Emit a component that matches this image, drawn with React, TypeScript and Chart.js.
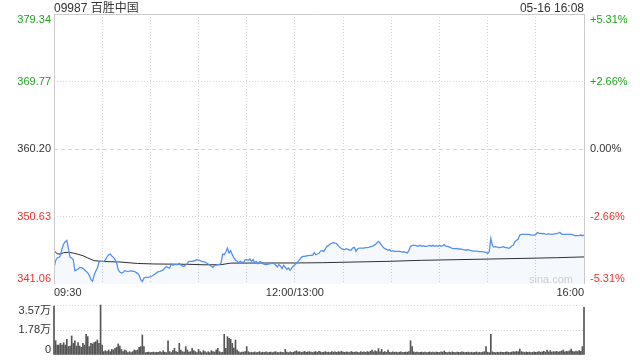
import React, { useEffect, useRef } from "react";
import { Chart, registerables } from "chart.js";
Chart.register(...registerables);

const titleText = "09987 百胜中国";
const stampText = "05-16 16:08";
const prevClose = 360.2;
const priceTicks = [341.06, 350.63, 360.2, 369.77, 379.34];
const volTicks = [0, 1.78, 3.57];
const volTickLabels = ["0", "1.78万", "3.57万"];
const timeLabels = ["09:30", "12:00/13:00", "16:00"];
const timeLabelMinutes = [0, 150, 330];
const totalMinutes = 330;

// price per minute (index = minutes of trading since 09:30, lunch break skipped)
const prices = [
  343.33, 344.37, 344.75, 344.84, 345.08, 346.07, 346.73, 347.06, 347.25, 346.07,
  344.84, 344.75, 344.51, 342.95, 343.05, 343.19, 343.42, 343.38, 343.28, 343.09,
  342.86, 342.62, 342.29, 341.67, 341.45, 342.29, 342.86, 343.33, 344.18, 344.27,
  344.27, 344.27, 344.51, 344.89, 345.22, 345.31, 345.03, 344.84, 344.51, 344.04,
  343.09, 342.76, 342.62, 342.71, 342.95, 342.9, 342.86, 342.9, 342.95, 342.86,
  342.86, 342.71, 342.57, 342.29, 341.67, 341.4, 341.91, 342.01, 342.01, 342.05,
  342.1, 342.19, 342.34, 342.48, 342.67, 342.81, 342.86, 342.95, 343.05, 343.33,
  343.57, 343.38, 343.33, 343.9, 343.71, 343.85, 343.8, 343.8, 343.99, 343.75,
  343.61, 343.57, 343.75, 343.99, 344.27, 344.27, 344.27, 344.32, 344.42, 344.51,
  344.46, 344.37, 344.27, 344.23, 344.18, 344.04, 343.9, 343.71, 343.57, 343.42,
  343.71, 343.75, 343.8, 343.8, 344.04, 345.31, 345.22, 345.6, 346.16, 345.46,
  345.79, 345.22, 344.75, 344.46, 344.27, 344.08, 344.27, 344.18, 344.08, 344.51,
  344.51, 344.42, 344.6, 344.27, 344.51, 344.08, 344.27, 343.94, 344.23, 344.18,
  343.94, 343.85, 343.8, 343.85, 343.9, 343.94, 344.04, 343.94, 343.75, 343.47,
  343.8, 343.61, 343.23, 343.71, 343.42, 343.14, 343.33, 343.0, 343.33, 343.61,
  343.8, 344.04, 344.27, 344.51, 344.84, 344.98, 344.98, 345.03, 345.08, 345.12,
  345.12, 345.12, 345.5, 345.22, 345.31, 345.41, 345.74, 345.79, 345.69, 346.07,
  346.4, 346.54, 346.73, 346.87, 346.92, 346.87, 346.78, 346.5, 346.26, 346.07,
  345.98, 345.93, 346.07, 345.98, 345.88, 345.88, 346.16, 346.26, 345.69, 346.02,
  346.16, 346.16, 346.16, 346.16, 346.21, 346.21, 346.26, 346.35, 346.4, 346.5,
  346.64, 346.87, 347.11, 346.87, 346.54, 346.26, 346.07, 345.98, 345.83, 345.93,
  345.69, 345.79, 345.69, 345.69, 345.69, 345.69, 345.64, 345.6, 345.6, 345.55,
  345.46, 345.83, 346.4, 346.54, 346.54, 346.54, 346.45, 346.45, 346.54, 346.4,
  346.5, 346.4, 346.4, 346.45, 346.54, 346.4, 346.54, 346.4, 346.5, 346.4,
  346.54, 346.4, 346.5, 346.64, 346.4, 346.4, 346.31, 346.21, 346.12, 346.07,
  346.07, 346.11, 346.02, 346.02, 345.97, 345.92, 345.88, 345.88, 345.92, 345.83,
  345.78, 345.73, 345.73, 345.73, 345.69, 345.64, 345.64, 345.64, 345.59, 345.54,
  345.4, 345.64, 347.53, 346.49, 346.3, 346.35, 346.3, 346.21, 346.25, 346.3,
  346.35, 346.21, 346.21, 346.11, 346.21, 346.44, 346.58, 347.06, 347.25, 347.44,
  348.0, 348.1, 348.1, 348.1, 348.1, 348.1, 348.1, 348.0, 348.0, 348.0,
  348.1, 348.38, 348.24, 348.24, 348.19, 348.24, 348.14, 348.1, 348.19, 348.14,
  348.1, 348.14, 348.19, 348.19, 348.29, 348.38, 348.14, 348.1, 348.1, 348.1,
  348.1, 348.1, 348.1, 348.05, 347.91, 347.91, 347.91, 347.91, 348.0, 347.91,
  348.0,
];

const avgMinutes = [0, 2, 4, 6, 9, 12, 15, 18, 21, 25, 31, 41, 52, 62, 84, 94, 104, 110, 135, 150, 167, 188, 208, 229, 251, 271, 292, 313, 330];
const avgPrices = [345.78, 345.35, 345.3, 345.5, 345.55, 345.45, 345.27, 345.08, 344.75, 344.37, 344.25, 344.18, 343.97, 343.9, 343.85, 343.78, 343.8, 344.02, 344.04, 344.04, 344.08, 344.18, 344.27, 344.42, 344.51, 344.6, 344.69, 344.79, 344.9];

// volume per minute, in 万
const volumes = [
  3.5, 1.02, 0.71, 0.71, 0.83, 0.71, 0.88, 0.71, 1.12, 0.6,
  0.64, 1.36, 0.83, 1.02, 0.64, 0.88, 0.64, 0.55, 0.83, 0.71,
  1.48, 1.31, 0.6, 0.83, 0.79, 0.88, 0.95, 1.07, 0.83, 3.57,
  0.71, 0.24, 0.31, 0.24, 0.36, 0.24, 0.4, 0.36, 0.48, 0.55,
  0.79, 0.64, 0.4, 0.24, 0.36, 0.31, 0.17, 0.24, 0.17, 0.24,
  0.36, 0.31, 0.36, 0.55, 0.6, 1.43, 0.6, 0.17, 0.19, 0.21,
  0.17, 0.19, 0.21, 0.17, 0.2, 0.19, 0.24, 0.18, 0.31, 0.2,
  0.17, 1.02, 0.24, 0.17, 0.31, 0.48, 0.24, 0.2, 0.83, 0.36,
  0.24, 0.2, 0.6, 0.36, 0.2, 0.24, 0.48, 0.31, 0.24, 0.17,
  0.4, 0.24, 0.17, 0.31, 0.24, 0.17, 0.24, 0.17, 0.31, 0.24,
  0.21, 0.36, 0.48, 0.24, 0.17, 0.2, 1.48, 0.48, 1.31, 1.19,
  1.12, 0.83, 0.5, 1.07, 0.36, 0.24, 0.17, 0.2, 0.21, 0.24,
  0.6, 0.24, 0.17, 0.2, 0.18, 0.22, 0.17, 0.19, 0.24, 0.17,
  0.2, 0.18, 0.22, 0.17, 0.19, 0.21, 0.17, 0.2, 0.24, 0.18,
  0.17, 0.21, 0.19, 0.17, 0.4, 0.2, 0.17, 0.22, 0.18, 0.2,
  0.24, 0.3, 0.2, 0.24, 0.18, 0.21, 0.26, 0.19, 0.22, 0.24,
  0.2, 0.18, 0.22, 0.24, 0.2, 0.26, 0.22, 0.18, 0.2, 0.24,
  0.19, 0.21, 0.18, 0.24, 0.2, 0.22, 0.19, 0.24, 0.2, 0.26,
  0.21, 0.19, 0.22, 0.2, 0.18, 0.24, 0.21, 0.19, 0.22, 0.2,
  0.18, 0.24, 0.2, 0.22, 0.19, 0.24, 0.21, 0.26, 0.36, 0.22,
  0.3, 0.24, 0.45, 0.22, 0.4, 0.2, 0.24, 0.19, 0.36, 0.2,
  0.18, 0.22, 0.19, 0.21, 0.17, 0.2, 0.22, 0.18, 0.19, 0.21,
  0.2, 0.24, 1.02, 0.6, 0.22, 0.18, 0.2, 0.17, 0.19, 0.21,
  0.18, 0.2, 0.17, 0.19, 0.22, 0.18, 0.2, 0.17, 0.21, 0.19,
  0.18, 0.22, 0.2, 0.29, 0.19, 0.17, 0.2, 0.18, 0.22, 0.19,
  0.17, 0.21, 0.19, 0.18, 0.22, 0.2, 0.17, 0.19, 0.21, 0.18,
  0.2, 0.17, 0.19, 0.22, 0.18, 0.2, 0.17, 0.21, 0.24, 0.6,
  0.2, 0.17, 1.48, 0.22, 0.19, 0.17, 0.2, 0.18, 0.21, 0.19,
  0.18, 0.2, 0.22, 0.19, 0.17, 0.21, 0.24, 0.2, 0.26, 0.22,
  0.43, 0.24, 0.2, 0.18, 0.22, 0.19, 0.21, 0.17, 0.2, 0.22,
  0.19, 0.21, 0.24, 0.2, 0.22, 0.26, 0.2, 0.36, 0.22, 0.31,
  0.2, 0.24, 0.22, 0.26, 0.21, 0.24, 0.28, 0.36, 0.22, 0.26,
  0.24, 0.3, 0.43, 0.26, 0.22, 0.28, 0.24, 0.32, 0.26, 0.6,
  3.4,
];

const FONT = '"Liberation Sans", Arial, "Noto Sans CJK SC", sans-serif';
const GREEN = "#1fa31f";
const RED = "#f2302f";
const TEXT = "#333333";
const GRID = "#d2d2d2";
const FRAME = "#cccccc";

const priceOverlay = {
  id: "priceOverlay",
  afterDraw(chart: any) {
    const { ctx, chartArea: a, scales } = chart;
    const x = scales.x;
    const y = scales.y;
    ctx.save();
    // frame
    ctx.strokeStyle = FRAME;
    ctx.lineWidth = 1;
    ctx.setLineDash([]);
    ctx.beginPath();
    ctx.moveTo(Math.round(a.left) + 0.5, a.bottom);
    ctx.lineTo(Math.round(a.left) + 0.5, Math.round(a.top) + 0.5);
    ctx.lineTo(Math.round(a.right) + 0.5, Math.round(a.top) + 0.5);
    ctx.lineTo(Math.round(a.right) + 0.5, a.bottom);
    ctx.stroke();

    // axis labels
    ctx.font = "11px " + FONT;
    priceTicks.forEach((v, i) => {
      const py = y.getPixelForValue(v);
      const base = i === priceTicks.length - 1 ? "top" : i === 0 ? "bottom" : "middle";
      const color = v > prevClose + 1e-9 ? GREEN : v < prevClose - 1e-9 ? RED : TEXT;
      ctx.fillStyle = color;
      ctx.textBaseline = base;
      ctx.textAlign = "right";
      ctx.fillText(v.toFixed(2), a.left - 3, py);
      const pct = ((v - prevClose) / prevClose) * 100;
      const pctText = (pct > 0.0001 ? "+" : "") + (Math.abs(pct) < 0.0001 ? "0.00" : pct.toFixed(2)) + "%";
      ctx.textAlign = "left";
      ctx.fillText(pctText, a.right + 6, py);
    });

    // time labels
    ctx.fillStyle = TEXT;
    ctx.textBaseline = "alphabetic";
    timeLabels.forEach((t, i) => {
      const px = x.getPixelForValue(timeLabelMinutes[i]);
      ctx.textAlign = i === 0 ? "left" : i === timeLabels.length - 1 ? "right" : "center";
      ctx.fillText(t, px, a.bottom + 12);
    });

    // title & stamp
    ctx.font = "12px " + FONT;
    ctx.fillStyle = TEXT;
    ctx.textAlign = "left";
    ctx.fillText(titleText, a.left, 12);
    ctx.textAlign = "right";
    ctx.fillText(stampText, a.right, 12);

    // watermark
    ctx.font = "11px " + FONT;
    ctx.fillStyle = "#cfcfcf";
    ctx.textAlign = "right";
    ctx.fillText("sina.com", a.right - 11, a.bottom - 1);
    ctx.restore();
  },
};

const volOverlay = {
  id: "volOverlay",
  afterDraw(chart: any) {
    const { ctx, chartArea: a, scales } = chart;
    const y = scales.y;
    ctx.save();
    ctx.font = "11px " + FONT;
    ctx.fillStyle = TEXT;
    ctx.textAlign = "right";
    volTicks.forEach((v, i) => {
      const py = y.getPixelForValue(v);
      ctx.textBaseline = i === volTicks.length - 1 ? "top" : i === 0 ? "bottom" : "middle";
      ctx.fillText(volTickLabels[i], a.left - 3, py);
    });
    ctx.restore();
  },
};

export default function App() {
  const priceRef = useRef<HTMLCanvasElement>(null);
  const volRef = useRef<HTMLCanvasElement>(null);

  useEffect(() => {
    const pc = new Chart(priceRef.current as HTMLCanvasElement, {
      type: "line",
      data: {
        datasets: [
          {
            data: prices.map((p, i) => ({ x: i, y: p })),
            borderColor: "#5591f0",
            borderWidth: 1.3,
            pointRadius: 0,
            fill: "start",
            backgroundColor: "rgba(85,145,240,0.06)",
            tension: 0,
          },
          {
            data: avgMinutes.map((m, i) => ({ x: m, y: avgPrices[i] })),
            borderColor: "#2b2b2b",
            borderWidth: 1,
            pointRadius: 0,
            fill: false,
            tension: 0,
          },
        ],
      },
      options: {
        animation: false,
        responsive: false,
        maintainAspectRatio: false,
        layout: { padding: { left: 54, right: 56, top: 14, bottom: 16 } },
        plugins: { legend: { display: false }, tooltip: { enabled: false } },
        scales: {
          x: {
            type: "linear",
            min: 0,
            max: totalMinutes,
            offset: false,
            ticks: { display: false, stepSize: 30 },
            grid: { color: GRID, drawTicks: false, lineWidth: 1 },
            border: { display: false, dash: [1, 2] },
          },
          y: {
            type: "linear",
            min: priceTicks[0],
            max: priceTicks[priceTicks.length - 1],
            afterBuildTicks: (s: any) => {
              s.ticks = priceTicks.map((v) => ({ value: v }));
            },
            ticks: { display: false },
            grid: {
              drawTicks: false,
              lineWidth: 1,
              color: (c: any) =>
                c.tick && (c.tick.value === priceTicks[0] || c.tick.value === priceTicks[priceTicks.length - 1])
                  ? "rgba(0,0,0,0)"
                  : GRID,
            },
            border: {
              display: false,
              dash: (c: any) => (c.tick && c.tick.value === prevClose ? [4, 3] : [1, 2]),
            },
          },
        },
      } as any,
      plugins: [priceOverlay],
    });

    const vc = new Chart(volRef.current as HTMLCanvasElement, {
      type: "bar",
      data: {
        datasets: [
          {
            data: volumes.map((v, i) => ({ x: i, y: v })),
            backgroundColor: "#555555",
            barThickness: 1,
            clip: false,
          } as any,
        ],
      },
      options: {
        animation: false,
        responsive: false,
        maintainAspectRatio: false,
        layout: { padding: { left: 54, right: 56, top: 5, bottom: 5 } },
        plugins: { legend: { display: false }, tooltip: { enabled: false } },
        scales: {
          x: { type: "linear", min: 0, max: totalMinutes, offset: false, display: false },
          y: {
            type: "linear",
            min: 0,
            max: volTicks[volTicks.length - 1],
            afterBuildTicks: (s: any) => {
              s.ticks = volTicks.map((v) => ({ value: v }));
            },
            ticks: { display: false },
            grid: {
              drawTicks: false,
              lineWidth: 1,
              color: (c: any) => (c.tick && c.tick.value === 0 ? "rgba(0,0,0,0)" : GRID),
            },
            border: { display: false, dash: [1, 2] },
          },
        },
      } as any,
      plugins: [volOverlay],
    });

    return () => {
      pc.destroy();
      vc.destroy();
    };
  }, []);

  return (
    <div style={{ position: "absolute", left: 0, top: 0, width: 640, height: 360, background: "#fff" }}>
      <canvas ref={priceRef} width={640} height={300} style={{ position: "absolute", left: 0, top: 0, display: "block" }} />
      <canvas ref={volRef} width={640} height={60} style={{ position: "absolute", left: 0, top: 300, display: "block" }} />
    </div>
  );
}
